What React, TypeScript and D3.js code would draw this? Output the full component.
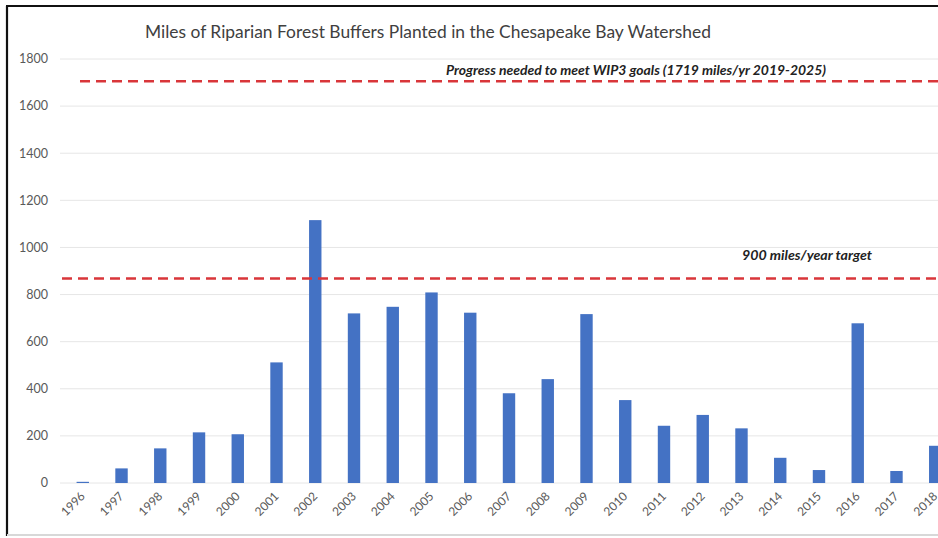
import React from "react";
import * as d3 from "d3";

const years = ["1996","1997","1998","1999","2000","2001","2002","2003","2004","2005","2006","2007","2008","2009","2010","2011","2012","2013","2014","2015","2016","2017","2018"];
const miles = [5, 62, 147, 215, 207, 512, 1116, 720, 748, 809, 723, 381, 441, 717, 352, 243, 289, 232, 107, 55, 678, 51, 158];
const yTicks = [0, 200, 400, 600, 800, 1000, 1200, 1400, 1600, 1800];
const refWip3 = 1706;
const refTarget = 868;
const title = "Miles of Riparian Forest Buffers Planted in the Chesapeake Bay Watershed";
const wip3Label = "Progress needed to meet WIP3 goals (1719 miles/yr 2019-2025)";
const targetLabel = "900 miles/year target";

const W = 938;
const H = 538;

export default function App() {
  const x = d3.scaleBand<string>().domain(years).range([63.4, 954.6]).paddingInner(0.68).paddingOuter(0.34);
  const y = d3.scaleLinear().domain([0, 1800]).range([483, 59]);
  const font = "Lato, 'Liberation Sans', sans-serif";
  return (
    <svg width={W} height={H} style={{ position: "absolute", left: 0, top: 0, background: "#fff" }} fontFamily={font}>
      <rect x={0} y={0} width={W} height={H} fill="#fff" />
      {/* frame */}
      <line x1={6} x2={W} y1={6} y2={6} stroke="#111" strokeWidth={2.2} />
      <line x1={7} x2={7} y1={6} y2={536} stroke="#111" strokeWidth={2.2} />
      <line x1={7} x2={W} y1={535} y2={535} stroke="#d8d8d8" strokeWidth={2} />
      {/* title */}
      <text x={428} y={38} textAnchor="middle" fontSize={16.5} fill="#404040" textLength={566} lengthAdjust="spacingAndGlyphs">{title}</text>
      {/* gridlines and y labels */}
      {yTicks.map((t) => (
        <g key={t}>
          <line x1={60} x2={W} y1={y(t)} y2={y(t)} stroke="#e6e6e6" strokeWidth={1} />
          <text x={48} y={y(t)} dy="0.35em" textAnchor="end" fontSize={12.5} fill="#595959">{t}</text>
        </g>
      ))}
      {/* bars */}
      {years.map((yr, i) => (
        <rect key={yr} x={x(yr)} y={y(miles[i])} width={x.bandwidth()} height={y(0) - y(miles[i])} fill="#4472C4" />
      ))}
      {/* x labels */}
      {years.map((yr) => {
        const cx = (x(yr) as number) + x.bandwidth() / 2 + 3;
        const cy = 497;
        return (
          <text key={yr} x={cx} y={cy} textAnchor="end" fontSize={12} fill="#595959" transform={`rotate(-45 ${cx} ${cy})`}>{yr}</text>
        );
      })}
      {/* reference lines */}
      <line x1={80} x2={W} y1={y(refWip3)} y2={y(refWip3)} stroke="#d9363a" strokeWidth={2.5} strokeDasharray="10 6" />
      <line x1={62} x2={W} y1={y(refTarget)} y2={y(refTarget)} stroke="#d9363a" strokeWidth={2.5} strokeDasharray="10 6" />
      <text x={636} y={75} textAnchor="middle" fontSize={13} fontWeight="bold" fontStyle="italic" fill="#222" textLength={380} lengthAdjust="spacingAndGlyphs">{wip3Label}</text>
      <text x={807} y={260} textAnchor="middle" fontSize={13} fontWeight="bold" fontStyle="italic" fill="#222" textLength={130} lengthAdjust="spacingAndGlyphs">{targetLabel}</text>
    </svg>
  );
}
